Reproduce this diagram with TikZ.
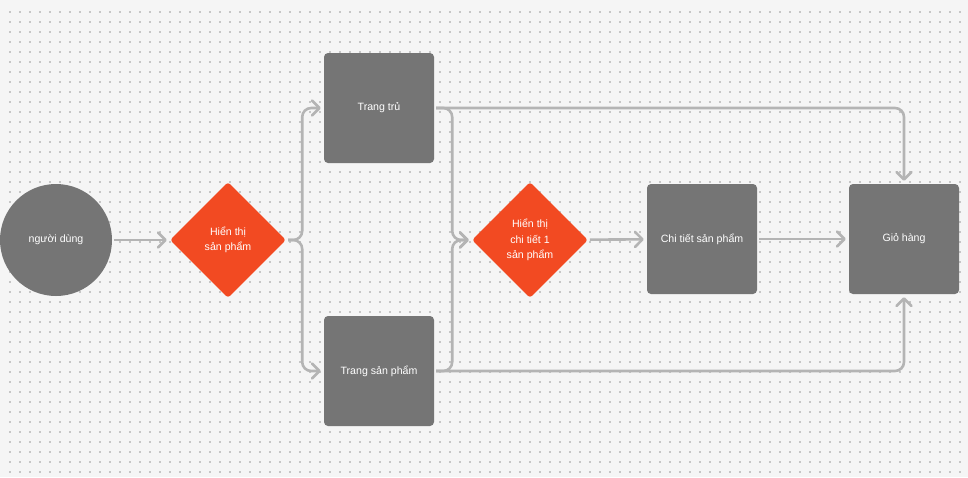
\documentclass[tikz,border=0pt]{standalone}
\usepackage{fontspec}
\setmainfont{Liberation Sans}
\usetikzlibrary{arrows.meta,shapes.geometric}
\definecolor{canvas}{RGB}{245,245,245}
\definecolor{griddot}{RGB}{198,198,198}
\definecolor{boxgray}{RGB}{117,117,117}
\definecolor{flowline}{RGB}{180,180,180}
\definecolor{figorange}{RGB}{242,74,34}

\begin{document}
\begin{tikzpicture}[x=1pt,y=-1pt,
    font=\fontsize{10.6}{15.5}\selectfont,
    pagebox/.style={fill=boxgray,rounded corners=4pt,minimum width=110pt,
      minimum height=110pt,text=white,inner sep=0pt},
    choice/.style={diamond,aspect=1,fill=figorange,rounded corners=3pt,
      minimum width=116pt,minimum height=116pt,text=white,align=center,
      inner sep=0pt},
    link/.style={draw=flowline,line width=2.6pt,rounded corners=9pt,
      -{Straight Barb[length=7.5pt,width=15pt,line cap=round,line join=round]},
      shorten >=3pt,shorten <=2pt}]

  % canvas with dot grid
  \useasboundingbox[fill=canvas] (0,0) rectangle (968,477);
  \foreach \gy in {12,22,...,472}
    \draw[griddot,line width=1.2pt,dash pattern=on 1.2pt off 8.8pt]
      (9.4,\gy) -- (968,\gy);

  % nodes
  \node[circle,fill=boxgray,minimum size=112pt,inner sep=0pt,text=white]
    (user) at (56,240) {người dùng};
  \node[choice] (hien1) at (228,240) {Hiển thị\\sản phẩm};
  \node[pagebox] (trangtru) at (379,108) {Trang trủ};
  \node[pagebox] (trangsp) at (379,371) {Trang sản phẩm};
  \node[choice] (hien2) at (530,240) {Hiển thị\\chi tiết 1\\sản phẩm};
  \node[pagebox] (chitiet) at (702,239) {Chi tiết sản phẩm};
  \node[pagebox] (gio) at (904,239) {Giỏ hàng};

  % connectors
  \draw[link] (user) -- (hien1);
  \draw[link] (hien1.east) -- ++(16,0) |- (trangtru.west);
  \draw[link] (hien1.east) -- ++(16,0) |- (trangsp.west);
  \draw[link] (trangtru.east) -- ++(18,0) |- (hien2.west);
  \draw[link] (trangsp.east) -- ++(18,0) |- (hien2.west);
  \draw[link] (trangtru.east) -| (gio.north);
  \draw[link] (trangsp.east) -| (gio.south);
  \draw[link] (hien2) -- (chitiet);
  \draw[link] (chitiet) -- (gio);
\end{tikzpicture}
\end{document}
